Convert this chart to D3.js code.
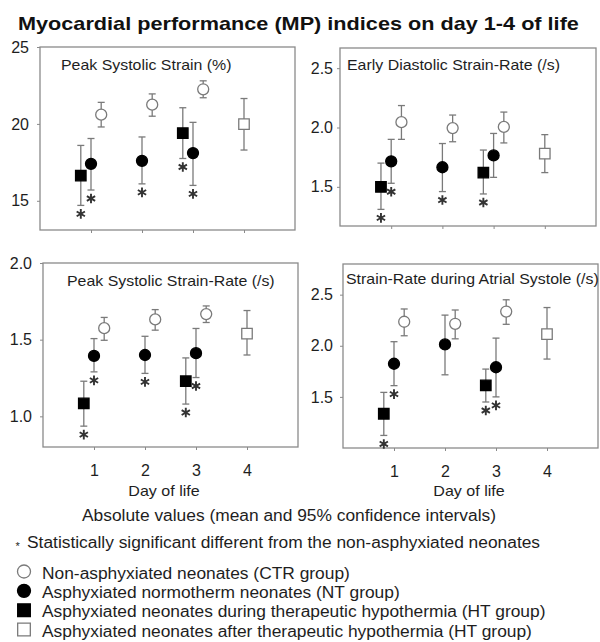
<!DOCTYPE html>
<html>
<head>
<meta charset="utf-8">
<script src="https://cdn.jsdelivr.net/npm/d3@7"></script>
<style>
  body { margin: 0; background: #fff; }
  svg { font-family: "Liberation Sans", Arial, sans-serif; }
</style>
</head>
<body>
<div class="canvas"></div>
<script>
// groups: CTR = open circle, NT = filled circle, HT = filled square (during HT), HTa = open square (after HT)
const days = [1, 2, 3, 4];
const groupOffset = { HT: -0.2, NT: 0, CTR: 0.2, HTa: 0 };

// rows: [group, day, mean, low 95%, high 95%, significant vs CTR]
const peakStrain = [
  ['HT', 1, 16.64, 14.7, 18.6, true],
  ['NT', 1, 17.4, 15.7, 19.05, true],
  ['CTR', 1, 20.6, 19.8, 21.4, false],
  ['NT', 2, 17.6, 16.1, 19.15, true],
  ['CTR', 2, 21.25, 20.5, 21.95, false],
  ['HT', 3, 19.4, 17.75, 21.05, true],
  ['NT', 3, 18.1, 16.0, 20.1, true],
  ['CTR', 3, 22.25, 21.7, 22.8, false],
  ['HTa', 4, 19.98, 18.3, 21.65, false]
];

const earlyDiastolic = [
  ['HT', 1, 1.50, 1.31, 1.70, true],
  ['NT', 1, 1.715, 1.53, 1.90, true],
  ['CTR', 1, 2.045, 1.90, 2.185, false],
  ['NT', 2, 1.665, 1.46, 1.865, true],
  ['CTR', 2, 1.995, 1.88, 2.105, false],
  ['HT', 3, 1.62, 1.44, 1.81, true],
  ['NT', 3, 1.765, 1.58, 1.95, false],
  ['CTR', 3, 2.005, 1.87, 2.13, false],
  ['HTa', 4, 1.78, 1.62, 1.94, false]
];

const peakSystolicSR = [
  ['HT', 1, 1.084, 0.936, 1.229, true],
  ['NT', 1, 1.394, 1.29, 1.507, true],
  ['CTR', 1, 1.575, 1.496, 1.645, false],
  ['NT', 2, 1.40, 1.28, 1.522, true],
  ['CTR', 2, 1.632, 1.562, 1.696, false],
  ['HT', 3, 1.229, 1.08, 1.381, true],
  ['NT', 3, 1.412, 1.253, 1.573, true],
  ['CTR', 3, 1.667, 1.612, 1.72, false],
  ['HTa', 4, 1.54, 1.40, 1.69, false]
];

const atrialSR = [
  ['HT', 1, 1.335, 1.123, 1.544, true],
  ['NT', 1, 1.824, 1.61, 2.04, true],
  ['CTR', 1, 2.235, 2.098, 2.36, false],
  ['NT', 2, 2.013, 1.716, 2.30, false],
  ['CTR', 2, 2.215, 2.068, 2.35, false],
  ['HT', 3, 1.612, 1.45, 1.772, true],
  ['NT', 3, 1.79, 1.50, 2.075, true],
  ['CTR', 3, 2.335, 2.21, 2.45, false],
  ['HTa', 4, 2.114, 1.87, 2.374, false]
];

const legendLabels = [
  ['CTR', 'Non-asphyxiated neonates (CTR group)'],
  ['NT', 'Asphyxiated normotherm neonates (NT group)'],
  ['HT', 'Asphyxiated neonates during therapeutic hypothermia (HT group)'],
  ['HTa', 'Asphyxiated neonates after therapeutic hypothermia (HT group)']
];

//------------------------panel layout
const panels = [
  { title: 'Peak Systolic Strain (%)', data: peakStrain, yDomain: [13.1, 25], yTicks: [15, 20, 25], fmt: 'd',
    left: 40, right: 295, top: 47, bottom: 230, pad: 8, titleX: 61, titleY: 70, showX: false },
  { title: 'Early Diastolic Strain-Rate (/s)', data: earlyDiastolic, yDomain: [1.17, 2.67], yTicks: [1.5, 2.0, 2.5], fmt: '.1f',
    left: 340, right: 596, top: 48, bottom: 226, pad: 4, titleX: 347, titleY: 70, showX: false },
  { title: 'Peak Systolic Strain-Rate (/s)', data: peakSystolicSR, yDomain: [0.8, 2.0], yTicks: [1.0, 1.5, 2.0], fmt: '.1f',
    left: 43, right: 298, top: 263, bottom: 447, pad: 8, titleX: 67, titleY: 286, showX: true },
  { title: 'Strain-Rate during Atrial Systole (/s)', data: atrialSR, yDomain: [1.0, 2.8], yTicks: [1.5, 2.0, 2.5], fmt: '.1f',
    left: 343, right: 598, top: 264, bottom: 448, pad: 7, titleX: 346, titleY: 283.5, showX: true }
];

const frameColor = '#8a8a8a';
const barColor = '#7a7a7a';
const textColor = '#1e1e1e';

// the source picture is a little wider than plain Arial, stretch text horizontally
const stretch = (sel, k) => sel.each(function () {
  const w = this.getComputedTextLength();
  d3.select(this).attr('textLength', w * k).attr('lengthAdjust', 'spacingAndGlyphs');
});

const svg = d3.select('.canvas')
.append('svg')
.attr('width', 600)
.attr('height', 642);

svg.append('text')
.attr('x', 18)
.attr('y', 29.5)
.attr('font-weight', 'bold')
.attr('font-size', 19)
.attr('fill', '#111')
.text('Myocardial performance (MP) indices on day 1-4 of life')
.call(stretch, 1.14);

const markerPath = (group, size) => {
  const type = (group === 'CTR' || group === 'NT') ? d3.symbolCircle : d3.symbolSquare;
  return d3.symbol().type(type).size(size)();
};
const markerFill = g => (g === 'NT' || g === 'HT') ? '#000' : '#fff';
const markerStroke = g => (g === 'NT' || g === 'HT') ? '#000' : barColor;

panels.forEach(p => {
  const x = d3.scaleLinear().domain([0, 5]).range([p.left, p.right]);
  const y = d3.scaleLinear().domain(p.yDomain).range([p.bottom, p.top]);
  const g = svg.append('g');

  // frame
  g.append('rect')
  .attr('x', p.left).attr('y', p.top)
  .attr('width', p.right - p.left).attr('height', p.bottom - p.top)
  .attr('fill', 'none').attr('stroke', frameColor).attr('stroke-width', 1.3);

  // y axis
  const yAxis = g.append('g')
  .attr('transform', `translate(${p.left},0)`)
  .call(d3.axisLeft(y).tickValues(p.yTicks).tickSize(3).tickPadding(p.pad).tickFormat(d3.format(p.fmt)));

  // x axis (tick labels only on the bottom row)
  const xAxis = g.append('g')
  .attr('transform', `translate(0,${p.bottom})`)
  .call(d3.axisBottom(x).tickValues(days).tickSize(3).tickPadding(15).tickFormat(p.showX ? d3.format('d') : () => ''));

  [yAxis, xAxis].forEach(a => {
    a.select('.domain').remove();
    a.selectAll('line').attr('stroke', frameColor);
    a.selectAll('text').attr('fill', textColor).attr('font-size', 16).attr('font-family', '"Liberation Sans", Arial, sans-serif');
  });

  // panel title
  g.append('text')
  .attr('x', p.titleX).attr('y', p.titleY)
  .attr('font-size', 15).attr('fill', textColor)
  .text(p.title)
  .call(stretch, 1.06);

  const rows = p.data.map(r => ({ group: r[0], day: r[1], mean: r[2], lo: r[3], hi: r[4], sig: r[5] }));
  const cx = d => x(d.day + groupOffset[d.group]);

  // error bars
  const bars = g.selectAll('.bar').data(rows).enter().append('g').attr('class', 'bar')
  .attr('stroke', barColor).attr('stroke-width', 1.3);
  bars.append('line').attr('x1', cx).attr('x2', cx).attr('y1', d => y(d.lo)).attr('y2', d => y(d.hi));
  bars.append('line').attr('x1', d => cx(d) - 3.5).attr('x2', d => cx(d) + 3.5).attr('y1', d => y(d.hi)).attr('y2', d => y(d.hi));
  bars.append('line').attr('x1', d => cx(d) - 3.5).attr('x2', d => cx(d) + 3.5).attr('y1', d => y(d.lo)).attr('y2', d => y(d.lo));

  // markers
  g.selectAll('.mark').data(rows).enter().append('path').attr('class', 'mark')
  .attr('transform', d => `translate(${cx(d)},${y(d.mean)})`)
  .attr('d', d => markerPath(d.group, d.group === 'CTR' || d.group === 'NT' ? 95 : 110))
  .attr('fill', d => markerFill(d.group))
  .attr('stroke', d => markerStroke(d.group))
  .attr('stroke-width', 1.3);

  // significance asterisks below the lower CI
  g.selectAll('.star').data(rows.filter(d => d.sig)).enter().append('path').attr('class', 'star')
  .attr('transform', d => `translate(${cx(d)},${y(d.lo) + 8.5})`)
  .attr('d', d3.symbol().type(d3.symbolAsterisk).size(64)())
  .attr('fill', 'none').attr('stroke', '#333').attr('stroke-width', 1.9);
});

//------------------------axis captions and notes
[[164, 'Day of life'], [469, 'Day of life']].forEach(([cxp, label]) => {
  svg.append('text').attr('x', cxp).attr('y', 496).attr('text-anchor', 'middle')
  .attr('font-size', 15).attr('fill', textColor).text(label)
  .call(stretch, 1.07);
});

svg.append('text').attr('x', 289).attr('y', 520.5).attr('text-anchor', 'middle')
.attr('font-size', 16).attr('fill', textColor)
.text('Absolute values (mean and 95% confidence intervals)')
.call(stretch, 1.085);

svg.append('text').attr('x', 15.5).attr('y', 550).attr('font-size', 11).attr('fill', textColor).text('*');
svg.append('text').attr('x', 27).attr('y', 547.5)
.attr('font-size', 16).attr('fill', textColor)
.text('Statistically significant different from the non-asphyxiated neonates')
.call(stretch, 1.085);

//------------------------legend
const legendY = d3.scalePoint().domain(legendLabels.map(d => d[0])).range([573, 631]);
const legend = svg.selectAll('.legend').data(legendLabels).enter().append('g').attr('class', 'legend');
legend.append('path')
.attr('transform', d => `translate(24,${legendY(d[0]) - 1.5})`)
.attr('d', d => markerPath(d[0], d[0] === 'CTR' || d[0] === 'NT' ? 133 : 160))
.attr('fill', d => markerFill(d[0]))
.attr('stroke', d => markerStroke(d[0]))
.attr('stroke-width', 1.3);
legend.append('text')
.attr('x', 42).attr('y', d => legendY(d[0]) + 5.5)
.attr('font-size', 16).attr('fill', textColor)
.text(d => d[1])
.call(stretch, 1.085);
</script>
</body>
</html>
